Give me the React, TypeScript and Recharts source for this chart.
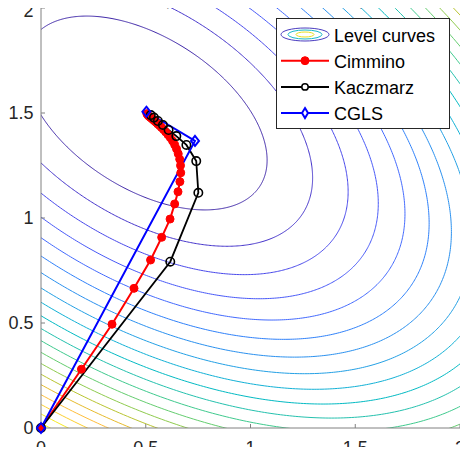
import { Line, LineChart, XAxis, YAxis } from "recharts";

const TITLE = "30 Cimmino iterations,  10 Kaczmarz iterations,  2 CGLS iterations";
const TICKS = [0, 0.5, 1, 1.5, 2];

// level curves: centre (least squares solution), quadratic form [a, b, c] and the levels
const SOLUTION = [0.5, 1.5];
const FORM = [1, 0.611, 1.575];
const LEVELS = [
  0.256, 0.484, 0.712, 0.94, 1.168, 1.396, 1.624, 1.852, 2.08, 2.308, 2.536, 2.764, 2.992,
  3.22, 3.448, 3.676, 3.904, 4.132, 4.36, 4.588,
];
const LEVEL_COLORS = [
  "#3e26a8", "#4332cb", "#4747eb", "#4758f8", "#4269fe", "#2f81fa", "#2b91ef", "#23a0e5",
  "#12b1d6", "#02bac3", "#24c1ae", "#3fca8e", "#64cd6f", "#8fcb4e", "#b9c431", "#e6bb2d",
  "#febe3c", "#fccf30", "#f5e924", "#f9fb15",
];

const CIMMINO_X = [
  0, 0.193, 0.339, 0.444, 0.523, 0.576, 0.616, 0.638, 0.654, 0.663, 0.667, 0.666, 0.662, 0.655,
  0.647, 0.638, 0.628, 0.617, 0.606, 0.595, 0.585, 0.575, 0.566, 0.557, 0.549, 0.541, 0.534,
  0.527, 0.521, 0.515, 0.51, 0.505,
];
const CIMMINO_Y = [
  0, 0.28, 0.494, 0.665, 0.8, 0.908, 0.995, 1.067, 1.125, 1.173, 1.215, 1.25, 1.28, 1.306, 1.329,
  1.349, 1.367, 1.383, 1.397, 1.41, 1.421, 1.431, 1.44, 1.448, 1.456, 1.463, 1.469, 1.475, 1.48,
  1.485, 1.49, 1.497,
];
const KACZMARZ_X = [0, 0.617, 0.751, 0.741, 0.694, 0.646, 0.609, 0.582, 0.558, 0.539, 0.524];
const KACZMARZ_Y = [0, 0.792, 1.12, 1.271, 1.348, 1.39, 1.419, 1.443, 1.462, 1.478, 1.49];
const CGLS_X = [0, 0.735, 0.503];
const CGLS_Y = [0, 1.367, 1.506];

const FONT = "'Liberation Sans', Arial, sans-serif";
const AXIS_COLOR = "#808080";
const TEXT_COLOR = "#262626";

const toPoints = (xs: number[], ys: number[]) => xs.map((x, i) => ({ x, y: ys[i] }));

// closed curve {d : d' M d = level} around the solution
function levelCurve(level: number) {
  const [a, b, c] = FORM;
  const r11 = Math.sqrt(a);
  const r12 = b / r11;
  const r22 = Math.sqrt(c - r12 * r12);
  const s = Math.sqrt(level);
  const pts: { x: number; y: number }[] = [];
  const n = 720;
  for (let i = 0; i <= n; i++) {
    const t = (i / n) * 2 * Math.PI;
    const dy = (s * Math.sin(t)) / r22;
    const dx = (s * Math.cos(t) - r12 * dy) / r11;
    pts.push({ x: SOLUTION[0] + dx, y: SOLUTION[1] + dy });
  }
  return pts;
}

const Diamond = (p: any) => {
  const { cx, cy, index } = p;
  if (cx == null || cy == null) return <g key={index} />;
  return (
    <path
      key={index}
      d={`M${cx},${cy - 5} L${cx + 4},${cy} L${cx},${cy + 5} L${cx - 4},${cy} Z`}
      fill="none"
      stroke="#0000ff"
      strokeWidth={2}
    />
  );
};

function LegendBox() {
  const rows = ["Level curves", "Cimmino", "Kaczmarz", "CGLS"];
  const cy = (i: number) => 16.5 + 26.2 * i;
  return (
    <svg
      width={175}
      height={112}
      style={{ position: "absolute", left: 276, top: 18 }}
    >
      <rect x={0.5} y={0.5} width={173} height={110} fill="#fff" stroke={TEXT_COLOR} strokeWidth={1} />
      <ellipse cx={29} cy={cy(0)} rx={24} ry={6.5} fill="none" stroke="#4a3cc0" strokeWidth={1} />
      <ellipse cx={29} cy={cy(0)} rx={17} ry={4.5} fill="none" stroke="#1ab8c8" strokeWidth={1} />
      <ellipse cx={29} cy={cy(0)} rx={9} ry={2.5} fill="none" stroke="#e8e020" strokeWidth={1} />
      <line x1={5} x2={53} y1={cy(1)} y2={cy(1)} stroke="#ff0000" strokeWidth={2} />
      <circle cx={29} cy={cy(1)} r={4} fill="#ff0000" stroke="#ff0000" />
      <line x1={5} x2={53} y1={cy(2)} y2={cy(2)} stroke="#000" strokeWidth={2} />
      <circle cx={29} cy={cy(2)} r={3.2} fill="#fff" stroke="#000" strokeWidth={1.5} />
      <line x1={5} x2={53} y1={cy(3)} y2={cy(3)} stroke="#0000ff" strokeWidth={2} />
      <path
        d={`M29,${cy(3) - 5} L32,${cy(3)} L29,${cy(3) + 5} L26,${cy(3)} Z`}
        fill="#fff"
        stroke="#0000ff"
        strokeWidth={2}
      />
      {rows.map((r, i) => (
        <text key={r} x={58} y={cy(i) + 7} fontFamily={FONT} fontSize={18} fill="#000">
          {r}
        </text>
      ))}
    </svg>
  );
}

export default function App() {
  const curves = LEVELS.map((l) => levelCurve(l));
  const tickStyle = { fontSize: 18, fill: TEXT_COLOR, fontFamily: FONT };
  return (
    <div
      style={{
        position: "relative",
        width: 468,
        height: 455,
        margin: -8,
        background: "#fff",
        overflow: "hidden",
      }}
    >
      <LineChart width={468} height={455} margin={{ top: 8, right: 8, bottom: 0, left: 8 }}>
        <XAxis
          type="number"
          dataKey="x"
          domain={[0, 2]}
          ticks={TICKS}
          height={27}
          tickSize={-4}
          tickMargin={17}
          stroke={AXIS_COLOR}
          tick={tickStyle}
        />
        <YAxis
          type="number"
          dataKey="y"
          domain={[0, 2]}
          ticks={TICKS}
          width={33}
          tickSize={-4}
          tickMargin={11.5}
          stroke={AXIS_COLOR}
          tick={tickStyle}
        />
        <XAxis
          xAxisId="c"
          orientation="top"
          type="number"
          dataKey="x"
          domain={[0, 2]}
          allowDataOverflow
          ticks={TICKS}
          height={0}
          tickSize={-4}
          tickFormatter={() => ""}
          stroke={AXIS_COLOR}
        />
        <YAxis
          yAxisId="c"
          orientation="right"
          type="number"
          dataKey="y"
          domain={[0, 2]}
          allowDataOverflow
          ticks={TICKS}
          width={0}
          tickSize={-4}
          tickFormatter={() => ""}
          stroke={AXIS_COLOR}
        />
        {curves.map((pts, i) => (
          <Line
            key={`lvl${i}`}
            xAxisId="c"
            yAxisId="c"
            data={pts}
            dataKey="y"
            type="linear"
            stroke={LEVEL_COLORS[i]}
            strokeWidth={1}
            dot={false}
            activeDot={false}
            isAnimationActive={false}
          />
        ))}
        <Line
          data={toPoints(CIMMINO_X, CIMMINO_Y)}
          dataKey="y"
          type="linear"
          stroke="#ff0000"
          strokeWidth={2}
          dot={{ r: 4, fill: "#ff0000", stroke: "#ff0000", strokeWidth: 1 }}
          activeDot={false}
          isAnimationActive={false}
        />
        <Line
          data={toPoints(KACZMARZ_X, KACZMARZ_Y)}
          dataKey="y"
          type="linear"
          stroke="#000000"
          strokeWidth={1.8}
          dot={{ r: 4.2, fill: "none", stroke: "#000000", strokeWidth: 1.6 }}
          activeDot={false}
          isAnimationActive={false}
        />
        <Line
          data={toPoints(CGLS_X, CGLS_Y)}
          dataKey="y"
          type="linear"
          stroke="#0000ff"
          strokeWidth={2}
          dot={Diamond}
          activeDot={false}
          isAnimationActive={false}
        />
      </LineChart>
      <svg width={468} height={24} style={{ position: "absolute", left: 0, top: 0, zIndex: 2 }}>
        <text x={251} y={6} textAnchor="middle" fontFamily={FONT} fontSize={18} fill={TEXT_COLOR}>
          {TITLE}
        </text>
      </svg>
      <LegendBox />
    </div>
  );
}
